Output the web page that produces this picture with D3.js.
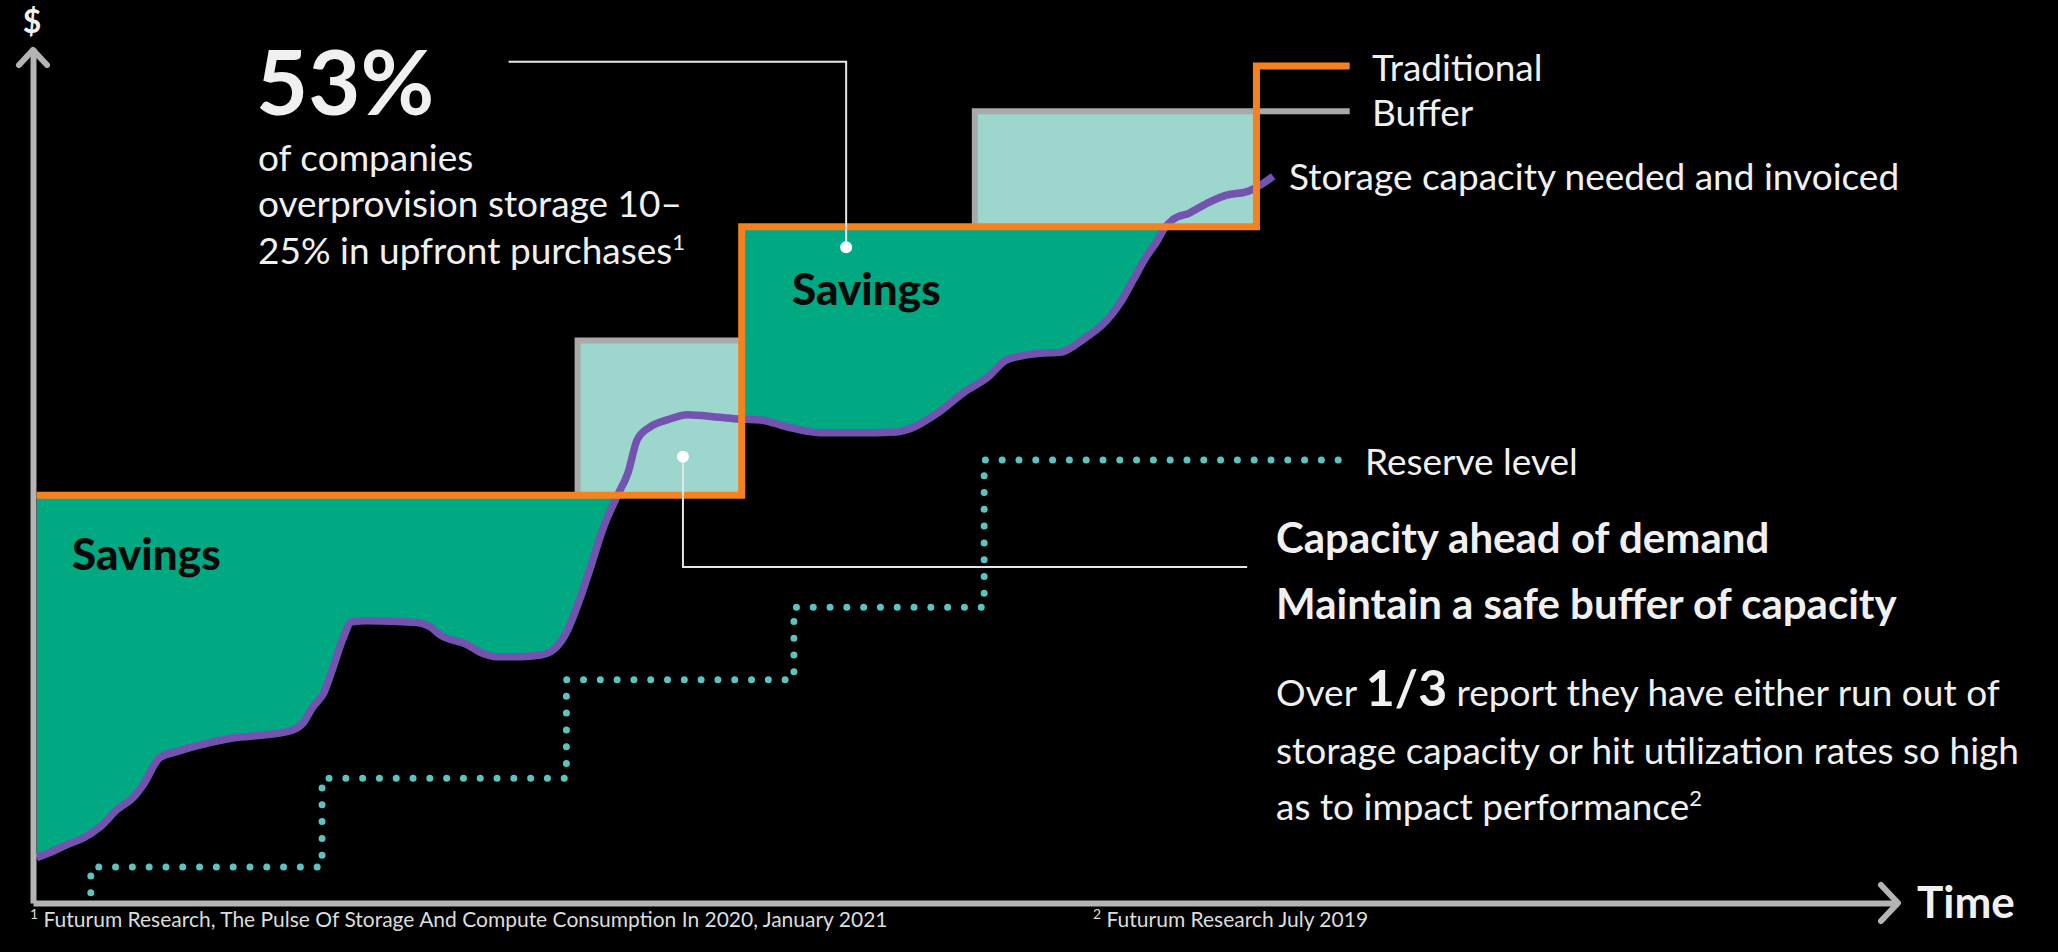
<!DOCTYPE html>
<html>
<head>
<meta charset="utf-8">
<script src="https://cdn.jsdelivr.net/npm/d3@7"></script>
<style>
  html, body { margin: 0; padding: 0; background: #000; }
  svg { display: block; }
</style>
</head>
<body>
<svg id="chart"></svg>
<script>
// storage cost vs time — traditional purchase steps, buffer, demand curve

// time (0–100) and cost (0–100) in chart units
const demandTime = [0.2, 0.9, 1.8, 2.7, 3.6, 4.5, 5.4, 5.9, 6.8, 7.7, 9.0, 10.7, 12.6, 13.9, 14.5, 15.0, 15.6, 16.1, 16.6, 17.1, 17.9, 20.6, 21.3, 21.8, 23.3, 24.1, 24.9, 26.1, 27.2, 27.9, 28.6, 29.3, 29.9, 30.6, 31.3, 31.9, 32.4, 33.1, 34.0, 35.1, 36.8, 37.9, 39.0, 40.4, 42.2, 44.0, 46.3, 48.5, 49.9, 51.2, 52.2, 54.0, 55.1, 56.3, 57.6, 58.3, 59.0, 59.7, 60.3, 60.6, 61.1, 62.0, 63.0, 64.0, 65.1, 65.6, 66.5]
const demandCost = [5.3, 5.9, 6.8, 7.6, 8.9, 10.9, 12.4, 13.8, 17.0, 17.7, 18.5, 19.3, 19.7, 20.2, 21.1, 22.9, 24.6, 27.6, 30.8, 32.9, 33.0, 32.8, 32.3, 31.4, 30.2, 29.2, 28.8, 28.8, 29.0, 29.6, 31.6, 35.4, 39.3, 44.0, 47.5, 50.3, 54.2, 55.7, 56.5, 57.1, 56.8, 56.6, 56.5, 55.7, 55.0, 55.0, 55.1, 57.3, 59.7, 61.5, 63.5, 64.3, 64.4, 65.9, 68.2, 70.2, 72.9, 75.6, 77.5, 78.7, 79.9, 80.7, 81.9, 82.8, 83.2, 83.7, 85.0]

// traditional upfront purchases (step after each start)
const tradStart = [0.2, 38.0, 65.6, 70.6]
const tradLevel = [47.7, 79.1, 97.9, 97.9]

// buffer boxes
const bufferStart = [29.2, 50.5]
const bufferEnd = [38.0, 65.6]
const bufferLineEnd = [38.0, 70.6]
const bufferTop = [65.8, 92.6]
const bufferBase = [47.7, 79.1]

// reserve level (dotted steps)
const reserveTime = [3.1, 3.1, 15.5, 28.6, 40.8, 51.0, 70.1]
const reserveCost = [1.2, 4.2, 14.6, 26.1, 34.6, 51.8, 51.8]

// annotation leaders
const leaderA = [[25.5, 98.4], [43.6, 98.4], [43.6, 76.7]]
const leaderB = [[34.85, 52.2], [34.85, 39.3], [65.1, 39.3]]

const W = 2058, H = 952
const FONT = 'Lato, "Open Sans", sans-serif'
const C = {
  axis: '#b4b4b4',
  orange: '#f58220',
  gray: '#a9a9a9',
  teal: '#9dd6cd',
  green: '#01a982',
  purple: '#7352b0',
  dots: '#5cc4bf',
  text: '#f0f0f0'
}

const svg = d3.select('#chart').attr('width', W).attr('height', H)
svg.append('rect').attr('width', W).attr('height', H).attr('fill', '#000')

const x = d3.scaleLinear().domain([0, 100]).range([33, 1898])
const y = d3.scaleLinear().domain([0, 100]).range([903, 48])

const demand = demandTime.map((t, i) => ({ t, v: demandCost[i] }))
const trad = tradStart.map((t, i) => ({ t, v: tradLevel[i] }))
const reserve = reserveTime.map((t, i) => ({ t, v: reserveCost[i] }))

const g = svg.append('g')

// Buffer fills
bufferStart.forEach((t0, i) => {
  g.append('rect')
    .attr('x', x(t0))
    .attr('y', y(bufferTop[i]))
    .attr('width', x(bufferEnd[i]) - x(t0))
    .attr('height', y(bufferBase[i]) - y(bufferTop[i]))
    .attr('fill', C.teal)
})

// Savings: above demand, below traditional (clip)
const defs = svg.append('defs')
defs.append('clipPath').attr('id', 'under-trad')
  .append('path')
  .attr('d', d3.area()
    .x(d => x(d.t))
    .y0(y(0))
    .y1(d => y(d.v))
    .curve(d3.curveStepAfter)(trad.slice(0, 3)))

g.append('path')
  .attr('clip-path', 'url(#under-trad)')
  .attr('fill', C.green)
  .attr('d', d3.area()
    .x(d => x(d.t))
    .y0(d => y(d.v))
    .y1(y(100))
    .curve(d3.curveMonotoneX)(demand))

// Buffer outlines (top + left)
bufferStart.forEach((t0, i) => {
  g.append('path')
    .attr('fill', 'none')
    .attr('stroke', C.gray)
    .attr('stroke-width', 6)
    .attr('d', d3.line()([
      [x(t0), y(bufferBase[i])],
      [x(t0), y(bufferTop[i])],
      [x(bufferLineEnd[i]), y(bufferTop[i])]
    ]))
})

// Reserve level
g.append('path')
  .attr('fill', 'none')
  .attr('stroke', C.dots)
  .attr('stroke-width', 7)
  .attr('stroke-linecap', 'round')
  .attr('stroke-dasharray', '0 16.8')
  .attr('d', d3.line().x(d => x(d.t)).y(d => y(d.v)).curve(d3.curveStepAfter)(reserve))

// Demand line
g.append('path')
  .attr('fill', 'none')
  .attr('stroke', C.purple)
  .attr('stroke-width', 7.5)
  .attr('stroke-linejoin', 'round')
  .attr('d', d3.line().x(d => x(d.t)).y(d => y(d.v)).curve(d3.curveMonotoneX)(demand))

// Traditional steps
g.append('path')
  .attr('fill', 'none')
  .attr('stroke', C.orange)
  .attr('stroke-width', 7)
  .attr('d', d3.line().x(d => x(d.t)).y(d => y(d.v)).curve(d3.curveStepAfter)(trad))

// Axes (no ticks, just the arrows)
svg.append('g').attr('transform', `translate(0,${y(0)})`)
  .call(d3.axisBottom(x).tickValues([]).tickSizeOuter(0))
svg.append('g').attr('transform', `translate(${x(0)},0)`)
  .call(d3.axisLeft(y).tickValues([]).tickSizeOuter(0))
svg.selectAll('.domain').attr('stroke', C.axis).attr('stroke-width', 6)

svg.append('path')
  .attr('fill', 'none').attr('stroke', C.axis).attr('stroke-width', 6)
  .attr('stroke-linecap', 'round').attr('stroke-linejoin', 'round')
  .attr('d', `M${x(0) - 14},${y(100) + 17} L${x(0)},${y(100) + 2} L${x(0) + 14},${y(100) + 17}`)
svg.append('path')
  .attr('fill', 'none').attr('stroke', C.axis).attr('stroke-width', 6)
  .attr('stroke-linecap', 'round').attr('stroke-linejoin', 'round')
  .attr('d', `M${x(100) - 17},${y(0) - 18} L${x(100)},${y(0)} L${x(100) - 17},${y(0) + 18}`)

// Leaders
const ann = svg.append('g').attr('fill', 'none').attr('stroke', '#e6e6e6').attr('stroke-width', 2)
;[leaderA, leaderB].forEach(pts => {
  ann.append('path').attr('d', d3.line()(pts.map(p => [x(p[0]), y(p[1])])))
})
svg.append('circle').attr('cx', x(leaderA[2][0])).attr('cy', y(leaderA[2][1])).attr('r', 6).attr('fill', '#fff')
svg.append('circle').attr('cx', x(leaderB[0][0])).attr('cy', y(leaderB[0][1])).attr('r', 6).attr('fill', '#fff')

// Text
function txt(px, py, s, size, weight, opts = {}) {
  return svg.append('text')
    .attr('x', px).attr('y', py)
    .attr('font-family', FONT)
    .attr('font-size', size)
    .attr('font-weight', weight)
    .attr('fill', opts.fill || C.text)
    .attr('text-anchor', opts.anchor || 'start')
    .attr('dominant-baseline', opts.baseline || 'auto')
    .text(s)
}

txt(32, 33, '$', 32, 700, { anchor: 'middle' })
txt(256, 115, '53%', 90, 700)
txt(258, 171, 'of companies', 37, 400)
txt(258, 217, 'overprovision storage 10–', 37, 400)
txt(258, 264, '25% in upfront purchases', 37, 400)
  .append('tspan').attr('font-size', 22).attr('dy', -14).text('1')

txt(1372, 66, 'Traditional', 37, 400, { baseline: 'central' })
txt(1372, 111, 'Buffer', 37, 400, { baseline: 'central' })
txt(1289, 175, 'Storage capacity needed and invoiced', 37, 400, { baseline: 'central' })
txt(1365, 460, 'Reserve level', 37, 400, { baseline: 'central' })

txt(72, 570, 'Savings', 44, 900, { fill: '#0a0a0a' })
txt(792, 305, 'Savings', 44, 900, { fill: '#0a0a0a' })

txt(1276, 553, 'Capacity ahead of demand', 42, 700)
txt(1276, 619, 'Maintain a safe buffer of capacity', 42, 700)
const p1 = txt(1276, 706, 'Over ', 37, 400)
p1.append('tspan').attr('font-weight', 700).attr('font-size', 50).text('1/3')
p1.append('tspan').text(' report they have either run out of')
txt(1276, 764, 'storage capacity or hit utilization rates so high', 37, 400)
txt(1276, 820, 'as to impact performance', 37, 400)
  .append('tspan').attr('font-size', 22).attr('dy', -14).text('2')

txt(1917, 918, 'Time', 44, 700)

const f1 = txt(30, 927, '', 21, 400, { fill: '#dcdcdc' })
f1.append('tspan').attr('font-size', 14).attr('dy', -8).text('1')
f1.append('tspan').attr('dy', 8).text(' Futurum Research, The Pulse Of Storage And Compute Consumption In 2020, January 2021')
const f2 = txt(1093, 927, '', 21, 400, { fill: '#dcdcdc' })
f2.append('tspan').attr('font-size', 14).attr('dy', -8).text('2')
f2.append('tspan').attr('dy', 8).text(' Futurum Research July 2019')
</script>
</body>
</html>
